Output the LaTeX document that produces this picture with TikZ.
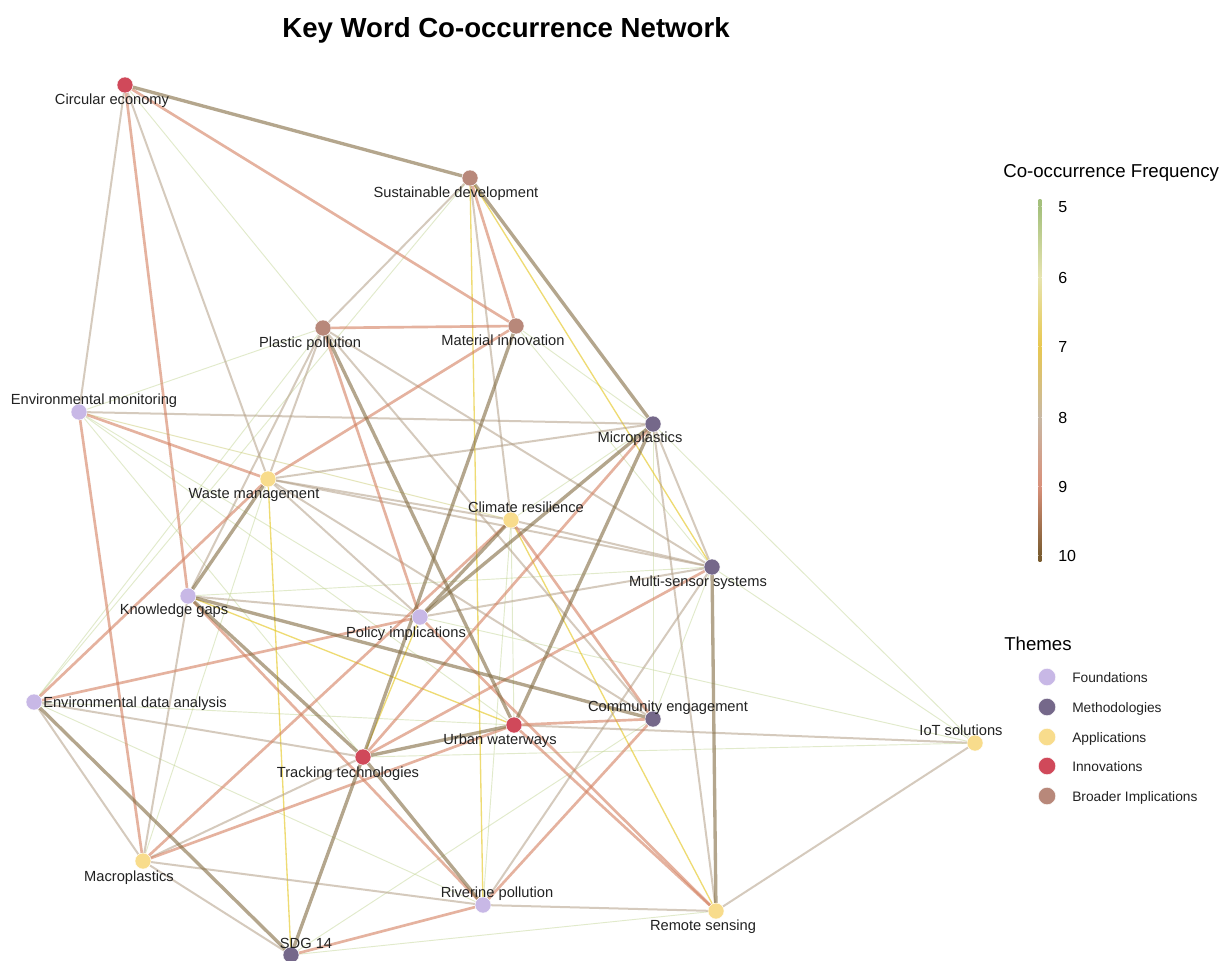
\documentclass[tikz,border=0pt]{standalone}
\usepackage{fontspec}
\setmainfont{Liberation Sans}
\usetikzlibrary{calc}
\pgfdeclarelayer{bglayer}
\pgfdeclarelayer{edgelayer}
\pgfsetlayers{bglayer,edgelayer,main}
\definecolor{cFound}{HTML}{C8B8E6}
\definecolor{cMeth}{HTML}{75688A}
\definecolor{cAppl}{HTML}{F8DC8C}
\definecolor{cInno}{HTML}{D0495A}
\definecolor{cBroad}{HTML}{B8887A}
\definecolor{e10}{RGB}{130,108,66}
\definecolor{e9}{RGB}{212,128,96}
\definecolor{e8}{RGB}{180,160,135}
\definecolor{e7}{RGB}{230,200,40}
\definecolor{e6}{RGB}{205,205,120}
\definecolor{e5}{RGB}{190,210,140}
\definecolor{g5}{HTML}{A4C07C}
\definecolor{g6}{HTML}{E6E4B0}
\definecolor{g7}{HTML}{E8C850}
\definecolor{g8}{HTML}{C8B8A4}
\definecolor{g9}{HTML}{D8907A}
\definecolor{g10}{HTML}{7A5C30}
\definecolor{txt}{HTML}{222222}
\begin{document}
\begin{tikzpicture}[x=0.75pt,y=-0.75pt,
  kw/.style={circle,inner sep=0pt,minimum size=12pt,draw=white,line width=0.3pt},
  found/.style={kw,fill=cFound},
  meth/.style={kw,fill=cMeth},
  appl/.style={kw,fill=cAppl},
  innov/.style={kw,fill=cInno},
  broad/.style={kw,fill=cBroad},
  lbl/.style={font=\fontsize{11}{13}\selectfont,anchor=base,inner sep=0pt,text=txt},
  lgd/.style={font=\fontsize{10.3}{12}\selectfont,anchor=base west,inner sep=0pt,text=txt},
  tick/.style={font=\fontsize{12}{14}\selectfont,anchor=base west,inner sep=0pt,text=black},
  ltitle/.style={font=\fontsize{14}{16}\selectfont,anchor=base west,inner sep=0pt,text=black},
  fA/.style={line width=2.5pt,draw=e10,draw opacity=.6},
  fB/.style={line width=2pt,draw=e9,draw opacity=.6},
  fC/.style={line width=1.5pt,draw=e8,draw opacity=.55},
  fD/.style={line width=1pt,draw=e7,draw opacity=.65},
  fE/.style={line width=0.8pt,draw=e6,draw opacity=.5},
  fF/.style={line width=0.7pt,draw=e5,draw opacity=.45}]
\useasboundingbox (0,0) rectangle (1224,960);
\begin{pgfonlayer}{bglayer}
\fill[white] (0,0) rectangle (1224,960);
\end{pgfonlayer}

% title
\node[font=\bfseries\fontsize{20.7}{24}\selectfont,anchor=base,inner sep=0pt] (title) at (506,37) {Key Word Co-occurrence Network};

% keyword nodes
\node[innov] (ce) at (125,85) {};
\node[broad] (sd) at (470,178) {};
\node[broad] (pp) at (323,328) {};
\node[broad] (mi) at (516,326) {};
\node[found] (em) at (79,412) {};
\node[meth] (mp) at (653,424) {};
\node[appl] (wm) at (268,479) {};
\node[appl] (cr) at (511,520) {};
\node[meth] (ms) at (712,567) {};
\node[found] (kg) at (188,596) {};
\node[found] (pi) at (420,617) {};
\node[found] (eda) at (34,702) {};
\node[meth] (cen) at (653,719) {};
\node[innov] (uw) at (514,725) {};
\node[appl] (iot) at (975,743) {};
\node[innov] (tt) at (363,757) {};
\node[appl] (mac) at (143,861) {};
\node[found] (rp) at (483,905) {};
\node[appl] (rs) at (716,911) {};
\node[meth] (sdg) at (291,955) {};

% labels
\node[lbl] (ce-l) at (112,104) {Circular economy};
\node[lbl] (sd-l) at (456,197) {Sustainable development};
\node[lbl] (pp-l) at (310,347) {Plastic pollution};
\node[lbl] (mi-l) at (503,345) {Material innovation};
\node[lbl] (em-l) at (94,404) {Environmental monitoring};
\node[lbl] (mp-l) at (640,442) {Microplastics};
\node[lbl] (wm-l) at (254,498) {Waste management};
\node[lbl] (cr-l) at (526,512) {Climate resilience};
\node[lbl] (ms-l) at (698,586) {Multi-sensor systems};
\node[lbl] (kg-l) at (174,614) {Knowledge gaps};
\node[lbl] (pi-l) at (406,637) {Policy implications};
\node[lbl,anchor=base west] (eda-l) at (43,707) {Environmental data analysis};
\node[lbl] (cen-l) at (668,711) {Community engagement};
\node[lbl] (uw-l) at (500,744) {Urban waterways};
\node[lbl] (iot-l) at (961,735) {IoT solutions};
\node[lbl] (tt-l) at (348,777) {Tracking technologies};
\node[lbl] (mac-l) at (129,881) {Macroplastics};
\node[lbl] (rp-l) at (497,897) {Riverine pollution};
\node[lbl] (rs-l) at (703,930) {Remote sensing};
\node[lbl] (sdg-l) at (306,948) {SDG 14};

\begin{pgfonlayer}{edgelayer}
% frequency 5-6
\draw[fF] (ce) -- (pp);
\draw[fF] (sd) -- (eda);
\draw[fF] (pp) -- (em);
\draw[fF] (pp) -- (eda);
\draw[fE] (em) -- (cr);
\draw[fF] (em) -- (pi);
\draw[fF] (em) -- (uw);
\draw[fF] (em) -- (tt);
\draw[fF] (wm) -- (mac);
\draw[fF] (mi) -- (mp);
\draw[fF] (mi) -- (ms);
\draw[fF] (mp) -- (cen);
\draw[fF] (mp) -- (iot);
\draw[fF] (mp) -- (cr);
\draw[fF] (cr) -- (uw);
\draw[fF] (cr) -- (rp);
\draw[fF] (kg) -- (ms);
\draw[fF] (tt) -- (iot);
\draw[fF] (pi) -- (iot);
\draw[fF] (uw) -- (eda);
\draw[fF] (ms) -- (iot);
\draw[fF] (ms) -- (cen);
\draw[fF] (eda) -- (rp);
\draw[fF] (cen) -- (sdg);
\draw[fF] (rs) -- (sdg);
% frequency 7
\draw[fD] (sd) -- (rp);
\draw[fD] (sd) -- (ms);
\draw[fD] (wm) -- (sdg);
\draw[fD] (cr) -- (rs);
\draw[fD] (kg) -- (uw);
\draw[fD] (tt) -- (pi);
% frequency 8
\draw[fC] (ce) -- (em);
\draw[fC] (ce) -- (wm);
\draw[fC] (sd) -- (pp);
\draw[fC] (sd) -- (cr);
\draw[fC] (pp) -- (ms);
\draw[fC] (pp) -- (cen);
\draw[fC] (pp) -- (kg);
\draw[fC] (pp) -- (wm);
\draw[fC] (em) -- (mp);
\draw[fC] (wm) -- (mp);
\draw[fC] (wm) -- (cr);
\draw[fC] (wm) -- (ms);
\draw[fC] (wm) -- (pi);
\draw[fC] (wm) -- (cen);
\draw[fC] (mp) -- (ms);
\draw[fC] (mp) -- (rs);
\draw[fC] (cr) -- (ms);
\draw[fC] (kg) -- (pi);
\draw[fC] (kg) -- (mac);
\draw[fC] (pi) -- (ms);
\draw[fC] (uw) -- (iot);
\draw[fC] (ms) -- (rp);
\draw[fC] (eda) -- (mac);
\draw[fC] (eda) -- (tt);
\draw[fC] (mac) -- (sdg);
\draw[fC] (mac) -- (rp);
\draw[fC] (mac) -- (tt);
\draw[fC] (rp) -- (rs);
\draw[fC] (rs) -- (iot);
% frequency 9
\draw[fB] (ce) -- (mi);
\draw[fB] (ce) -- (kg);
\draw[fB] (sd) -- (mi);
\draw[fB] (pp) -- (mi);
\draw[fB] (pp) -- (pi);
\draw[fB] (em) -- (wm);
\draw[fB] (em) -- (mac);
\draw[fB] (wm) -- (mi);
\draw[fB] (wm) -- (eda);
\draw[fB] (mp) -- (tt);
\draw[fB] (cr) -- (cen);
\draw[fB] (kg) -- (rp);
\draw[fB] (tt) -- (ms);
\draw[fB] (pi) -- (eda);
\draw[fB] (pi) -- (rs);
\draw[fB] (uw) -- (rs);
\draw[fB] (uw) -- (cen);
\draw[fB] (uw) -- (mac);
\draw[fB] (mac) -- (cr);
\draw[fB] (cen) -- (rp);
\draw[fB] (rp) -- (sdg);
% frequency 10
\draw[fA] (ce) -- (sd);
\draw[fA] (sd) -- (mp);
\draw[fA] (pp) -- (uw);
\draw[fA] (wm) -- (kg);
\draw[fA] (mi) -- (tt);
\draw[fA] (mp) -- (uw);
\draw[fA] (mp) -- (pi);
\draw[fA] (cr) -- (pi);
\draw[fA] (kg) -- (cen);
\draw[fA] (kg) -- (tt);
\draw[fA] (tt) -- (rp);
\draw[fA] (tt) -- (sdg);
\draw[fA] (tt) -- (uw);
\draw[fA] (ms) -- (rs);
\draw[fA] (eda) -- (sdg);
\end{pgfonlayer}

% colour bar legend
\node[ltitle] (cbt) at (1003,177) {Co-occurrence Frequency};
\shade[top color=g5,bottom color=g5] (1038.7,199) rectangle (1041.3,206);
\shade[top color=g5,bottom color=g6] (1038.7,206) rectangle (1041.3,277);
\shade[top color=g6,bottom color=g7] (1038.7,277) rectangle (1041.3,346);
\shade[top color=g7,bottom color=g8] (1038.7,346) rectangle (1041.3,417);
\shade[top color=g8,bottom color=g9] (1038.7,417) rectangle (1041.3,486);
\shade[top color=g9,bottom color=g10] (1038.7,486) rectangle (1041.3,555);
\shade[top color=g10,bottom color=g10] (1038.7,555) rectangle (1041.3,561);
\node[tick] (t5) at (1058,212) {5};
\node[tick] (t6) at (1058,283) {6};
\node[tick] (t7) at (1058,352) {7};
\node[tick] (t8) at (1058,423) {8};
\node[tick] (t9) at (1058,492) {9};
\node[tick] (t10) at (1058,561) {10};

% themes legend
\node[ltitle] (tht) at (1004,650) {Themes};
\node[found,minimum size=13pt] (lg1) at (1047,677) {};
\node[meth,minimum size=13pt] (lg2) at (1047,707) {};
\node[appl,minimum size=13pt] (lg3) at (1047,737) {};
\node[innov,minimum size=13pt] (lg4) at (1047,766) {};
\node[broad,minimum size=13pt] (lg5) at (1047,796) {};
\node[lgd] (lt1) at (1072,682) {Foundations};
\node[lgd] (lt2) at (1072,712) {Methodologies};
\node[lgd] (lt3) at (1072,742) {Applications};
\node[lgd] (lt4) at (1072,771) {Innovations};
\node[lgd] (lt5) at (1072,801) {Broader Implications};
\end{tikzpicture}
\end{document}
